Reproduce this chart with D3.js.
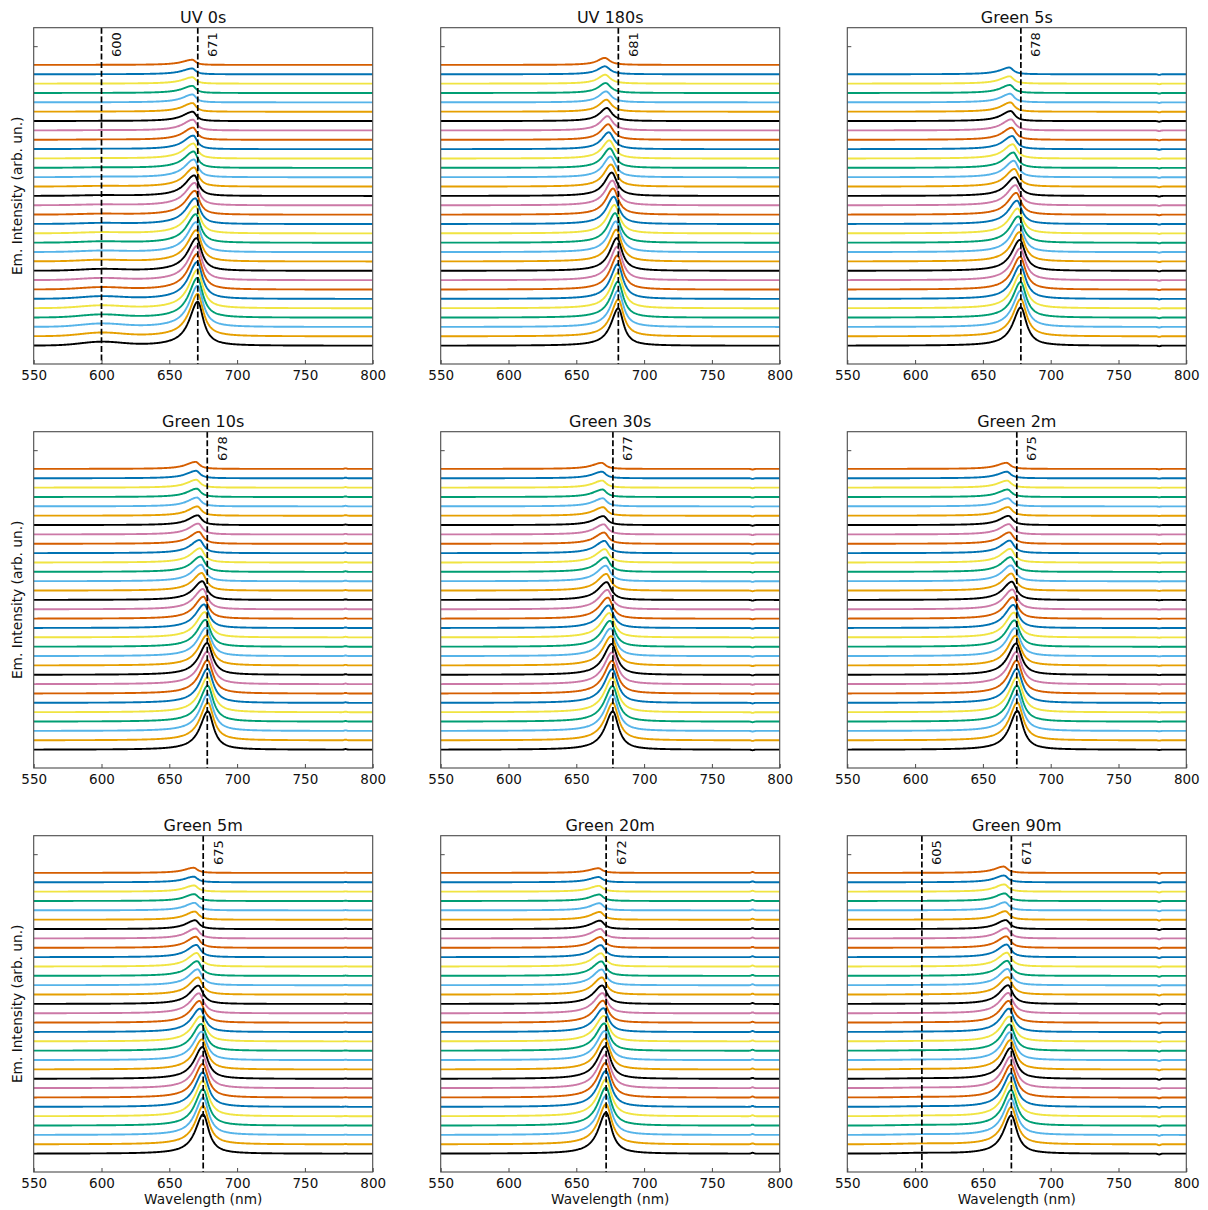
<!DOCTYPE html>
<html><head><meta charset="utf-8">
<script src="https://cdn.jsdelivr.net/npm/d3@7"></script>
<style>
body{margin:0;background:#fff}
text{font-family:"DejaVu Sans",sans-serif;fill:#111}
</style>
</head><body>
<svg id="chart" width="1208" height="1210"></svg>
<script>
// ---------- data ----------
const panelTitles = ["UV 0s","UV 180s","Green 5s","Green 10s","Green 30s","Green 2m","Green 5m","Green 20m","Green 90m"];
const markerLines = [[600,671],[681],[678],[678],[677],[675],[675],[672],[605,671]];
const xTicks = [550,600,650,700,750,800];
const yTicks = [32];
const traceColors = ["#000000","#E69F00","#56B4E9","#009E73","#F0E442","#0072B2","#D55E00","#CC79A7"];

// peak heights (arb. un.), bottom trace first
const heightsUV0   = [4.7,4.55,4.4,4.25,4.1,3.95,3.8,3.65,3.5,3.35,3.2,3.05,2.9,2.75,2.55,2.4,2.2,2.05,1.9,1.75,1.6,1.45,1.3,1.15,1.0,0.92,0.84,0.76,0.68,0.62,0.55];
const heightsUV180 = [4.0,3.95,3.9,3.85,3.8,3.72,3.65,3.58,3.5,3.4,3.28,3.16,3.04,2.92,2.8,2.65,2.5,2.36,2.22,2.08,1.94,1.8,1.66,1.53,1.4,1.28,1.17,1.06,0.95,0.85,0.75];
const heightsG5s   = [4.1,4.0,3.9,3.8,3.7,3.6,3.5,3.4,3.3,3.14,2.98,2.82,2.66,2.5,2.33,2.16,2.0,1.88,1.76,1.64,1.52,1.4,1.29,1.18,1.07,0.99,0.92,0.85,0.78,0.72];
const heightsG10s  = [4.1,4.02,3.93,3.84,3.75,3.66,3.57,3.48,3.4,3.22,3.04,2.87,2.7,2.52,2.35,2.17,2.0,1.88,1.76,1.64,1.52,1.4,1.28,1.16,1.04,0.99,0.94,0.89,0.84,0.8,0.75];
const heightsG30s  = [4.1,4.0,3.9,3.8,3.7,3.6,3.5,3.4,3.3,3.13,2.95,2.77,2.6,2.42,2.25,2.07,1.9,1.78,1.66,1.55,1.43,1.31,1.2,1.08,0.96,0.91,0.86,0.8,0.75,0.7,0.65];
const heightsG2m   = [4.15,4.05,3.95,3.85,3.75,3.65,3.55,3.45,3.35,3.18,3.0,2.82,2.65,2.47,2.3,2.12,1.95,1.82,1.7,1.58,1.46,1.34,1.22,1.1,0.98,0.92,0.86,0.8,0.75,0.7,0.65];
const heightsG5m   = [4.2,4.1,4.0,3.9,3.8,3.7,3.6,3.5,3.4,3.22,3.04,2.86,2.68,2.5,2.32,2.14,1.96,1.83,1.7,1.57,1.44,1.31,1.18,1.06,0.94,0.87,0.8,0.73,0.66,0.6,0.55];
const heightsG20m  = [4.4,4.3,4.2,4.08,3.96,3.84,3.72,3.6,3.48,3.3,3.11,2.92,2.73,2.54,2.35,2.16,1.97,1.83,1.69,1.55,1.41,1.28,1.15,1.02,0.9,0.83,0.76,0.69,0.62,0.56,0.5];
const heightsG90m  = [4.1,4.0,3.9,3.8,3.7,3.6,3.5,3.4,3.3,3.14,2.98,2.82,2.66,2.5,2.33,2.17,2.0,1.87,1.74,1.61,1.48,1.35,1.22,1.09,0.96,0.91,0.86,0.81,0.77,0.72,0.68];

// peak centres (nm), bottom trace first
const centersUV0   = [671,671,670.9,670.8,670.7,670.6,670.5,670.4,670.2,670,669.8,669.6,669.4,669.2,669,668.8,668.5,668.4,668.2,668,667.9,667.8,667.6,667.5,667.3,667.2,667.2,667.1,667.1,667,667];
const centersUV180 = [681,681,680.9,680.8,680.7,680.6,680.4,680.2,680,679.6,679.2,678.7,678.2,677.7,677.2,676.7,676.2,675.7,675.2,674.8,674.4,674,673.6,673.1,672.6,672.3,672,671.7,671.4,671.2,671];
const centersG5s   = [678,678,678,677.9,677.8,677.7,677.6,677.5,677.3,677,676.6,676.2,675.7,675.2,674.7,674.2,673.7,673.3,672.9,672.5,672.1,671.7,671.3,670.9,670.6,670.4,670.2,670,669.8,669.6];
const centersG10s  = [678.5,678.5,678.4,678.4,678.3,678.3,678.2,678.1,678,677.6,677.2,676.7,676.2,675.7,675.2,674.8,674.4,674,673.5,673.1,672.7,672.3,671.9,671.4,671,670.8,670.5,670.3,670,669.8,669.5];
const centersG30s  = [677,677,676.9,676.8,676.7,676.6,676.5,676.4,676.2,675.8,675.3,674.9,674.4,673.9,673.4,673,672.5,672.2,671.9,671.6,671.2,670.9,670.6,670.3,670,669.8,669.6,669.4,669.2,669,668.8];
const centersG2m   = [675.5,675.5,675.4,675.3,675.2,675.1,675,674.8,674.6,674.2,673.8,673.4,673,672.6,672.2,671.8,671.4,671.1,670.8,670.5,670.2,669.9,669.6,669.3,669,668.8,668.5,668.3,668,667.8,667.5];
const centersG5m   = [675,675,675,674.9,674.9,674.8,674.7,674.6,674.5,674.2,673.9,673.5,673.1,672.7,672.3,671.9,671.5,671.2,670.9,670.6,670.3,670,669.7,669.4,669.1,668.9,668.7,668.5,668.3,668.1,668];
const centersG20m  = [672,672,672,671.9,671.9,671.8,671.7,671.6,671.5,671.3,671,670.7,670.4,670.1,669.8,669.5,669.2,669,668.8,668.6,668.4,668.2,668,667.8,667.6,667.4,667.2,667,666.8,666.6,666.4];
const centersG90m  = [671,671,670.9,670.9,670.8,670.8,670.7,670.6,670.5,670.3,670,669.8,669.5,669.3,669.1,668.8,668.6,668.4,668.2,668,667.8,667.6,667.4,667.2,667,666.7,666.4,666.2,665.9,665.7,665.4];

// weak side band (UV 0s at 600 nm, Green 90m at 605 nm)
const sideBandUV0  = [0.38,0.36,0.33,0.3,0.27,0.25,0.22,0.2,0.17,0.15,0.13,0.12,0.1,0.09,0.08,0.07,0.06,0.05,0.04,0.04,0.03,0.03,0.02,0.02,0.01,0.01,0,0,0,0,0];
const sideBandG90m = [0.06,0.06,0.05,0.05,0.05,0.04,0.04,0.04,0.03,0.03,0.03,0.02,0.02,0.02,0.02,0.01,0.01,0.01,0.01,0,0,0,0,0,0,0,0,0,0,0,0];
const sideBandCenters = [600,null,null,null,null,null,null,null,605];
// small detector artefact near 780 nm
const artefact780 = [0,0,-0.07,0.06,-0.07,-0.04,0.03,0.1,-0.1];
// peak half-widths (nm): [left bottom, right bottom, left top, right top]
const peakWidths = [[7.5,5,9,3],[6.5,4.6,6.5,4.5],[7,5,8.5,3.5],[7,5,8.5,3.5],[7,5,8.5,3.5],[7,5,8.5,3.5],[7,5,8.5,3.5],[7,5,8.5,3.5],[7,5,8.5,3.5]];

const panelHeights = [heightsUV0,heightsUV180,heightsG5s,heightsG10s,heightsG30s,heightsG2m,heightsG5m,heightsG20m,heightsG90m];
const panelCenters = [centersUV0,centersUV180,centersG5s,centersG10s,centersG30s,centersG2m,centersG5m,centersG20m,centersG90m];
const panelSideBands = [sideBandUV0,null,null,null,null,null,null,null,sideBandG90m];

// ---------- layout ----------
const colX = [33.7, 440.7, 847.3], rowY = [27.7, 431.7, 835.7];
const W = 339, H = 336.3;
const x = d3.scaleLinear().domain([550,800]).range([0,W]);
const y = d3.scaleLinear().domain([-1.955,33.975]).range([H,0]);
const grid = d3.range(550, 800.001, 0.5);

const svg = d3.select("#chart");
const line = d3.line().x(d => x(d[0])).y(d => y(d[1]));

panelTitles.forEach((title, p) => {
  const r = Math.floor(p/3), c = p % 3;
  const g = svg.append("g").attr("transform", `translate(${colX[c]},${rowY[r]})`);
  const clipId = "clip" + p;
  g.append("clipPath").attr("id", clipId).append("rect").attr("width", W).attr("height", H);
  const plot = g.append("g").attr("clip-path", `url(#${clipId})`);

  const hs = panelHeights[p], cs = panelCenters[p], sb = panelSideBands[p];
  const [wlB, wrB, wlT, wrT] = peakWidths[p];
  const hMax = d3.max(hs), hMin = d3.min(hs);
  hs.forEach((h, i) => {
    const t = (h - hMin) / (hMax - hMin);
    const wl = wlT + t*(wlB - wlT), wr = wrT + t*(wrB - wrT);
    const c0 = cs[i];
    const pts = grid.map(w => {
      const d = w - c0;
      const ww = d < 0 ? wl : wr;
      let v = i + h / (1 + (d/ww)*(d/ww));
      if (sb) v += sb[i] * Math.exp(-((w - sideBandCenters[p])**2) / (2*15*15));
      if (artefact780[p]) v += artefact780[p] * Math.exp(-((w - 780)**2) / (2*0.9*0.9));
      return [w, v];
    });
    plot.append("path").attr("d", line(pts)).attr("fill","none")
      .attr("stroke", traceColors[i % traceColors.length]).attr("stroke-width", 1.9)
      .attr("stroke-linejoin","round");
  });

  // dashed markers
  markerLines[p].forEach(m => {
    g.append("line").attr("x1", x(m)).attr("x2", x(m)).attr("y1", 0).attr("y2", H)
      .attr("stroke","#000").attr("stroke-width",1.7).attr("stroke-dasharray","6,2.6");
    g.append("text").attr("transform", `translate(${x(m)+19.5},${29.3}) rotate(-90)`)
      .attr("text-anchor","start").attr("font-size",13).text(m);
  });

  // frame
  g.append("rect").attr("width", W).attr("height", H).attr("fill","none")
    .attr("stroke","#4a4a4a").attr("stroke-width",1.1);

  // axes
  const xa = g.append("g").attr("transform", `translate(0,${H})`)
    .call(d3.axisBottom(x).tickValues(xTicks).tickSizeInner(-4).tickSizeOuter(0).tickPadding(6));
  xa.select(".domain").remove();
  xa.selectAll("line").attr("stroke","#4a4a4a");
  xa.selectAll("text").attr("font-size",13.5).attr("font-family","DejaVu Sans").attr("fill","#111");

  const ya = g.append("g")
    .call(d3.axisLeft(y).tickValues(yTicks).tickSizeInner(-4).tickSizeOuter(0).tickFormat(() => ""));
  ya.select(".domain").remove();
  ya.selectAll("line").attr("stroke","#4a4a4a");

  // title
  g.append("text").attr("x", W/2).attr("y", -5).attr("text-anchor","middle")
    .attr("font-size",16).text(title);

  if (c === 0) {
    svg.append("text").attr("transform", `translate(17.5,${rowY[r] + H/2}) rotate(-90)`)
      .attr("text-anchor","middle").attr("dy","0.35em").attr("font-size",13.7)
      .text("Em. Intensity (arb. un.)");
  }
  if (r === 2) {
    g.append("text").attr("x", W/2).attr("y", H + 32).attr("text-anchor","middle")
      .attr("font-size",13.7).text("Wavelength (nm)");
  }
});
</script>
</body></html>
